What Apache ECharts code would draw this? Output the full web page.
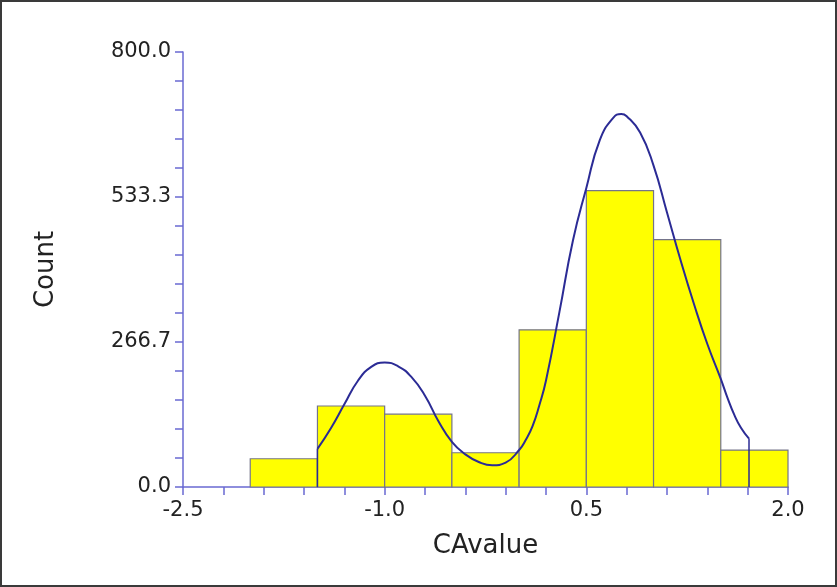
<!DOCTYPE html>
<html><head><meta charset="utf-8">
<script src="https://cdn.jsdelivr.net/npm/echarts@6/dist/echarts.min.js"></script>
<style>html,body{margin:0;padding:0;background:#fff}#c{width:837px;height:587px}</style>
</head><body><div id="c"></div>
<script>
const binStarts = [-2.0, -1.5, -1.0, -0.5, 0.0, 0.5, 1.0, 1.5];
const binEnds   = [-1.5, -1.0, -0.5, 0.0, 0.5, 1.0, 1.5, 2.0];
const counts    = [52, 149, 134, 63, 289, 545, 455, 68];

const curveX = [-1.50, -1.40, -1.30, -1.20, -1.10, -1.00, -0.90, -0.80, -0.70, -0.60, -0.50, -0.40, -0.30, -0.20, -0.10, 0.00, 0.05, 0.10, 0.15, 0.20, 0.30, 0.40, 0.50, 0.60, 0.70, 0.76, 0.80, 0.90, 1.00, 1.10, 1.20, 1.30, 1.40, 1.50, 1.55, 1.60, 1.65, 1.71];
const curveY = [70, 108, 152, 195, 221, 229, 222, 202, 168, 121, 83, 60, 46, 40, 45, 68, 87, 112, 150, 196, 322, 453, 550, 638, 679, 686, 682, 652, 591, 505, 418, 337, 263, 199, 164, 133, 109, 89];

const xLabelValues = [-2.5, -1.0, 0.5, 2.0];
const xTickValues = [-2.5, -2.2, -1.9, -1.6, -1.3, -1.0, -0.7, -0.4, -0.1, 0.2, 0.5, 0.8, 1.1, 1.4, 1.7, 2.0];
const yLabelValues = [0, 266.6667, 533.3333, 800];
const yTickValues = [0, 53.3333, 106.6667, 160, 213.3333, 266.6667, 320, 373.3333, 426.6667, 480, 533.3333, 586.6667, 640, 693.3333, 746.6667, 800];

const xName = 'CAvalue';
const yName = 'Count';

const barData = counts.map((c, i) => [binStarts[i], binEnds[i], c]);
const curveData = curveX.map((x, i) => [x, curveY[i]]);
const last = curveX.length - 1;
const dropLeft = [[curveX[0], 0], [curveX[0], curveY[0]]];
const dropRight = [[curveX[last], curveY[last]], [curveX[last], 0]];

const axisColor = '#6a6ad2';
const textColor = '#222';
const font = 'DejaVu Sans';
const curveColor = '#2b2b95';

const chart = echarts.init(document.getElementById('c'), null, {renderer: 'canvas'});
chart.setOption({
  backgroundColor: '#fff',
  animation: false,
  grid: {left: 183, right: 49, top: 52, bottom: 100, containLabel: false},
  xAxis: {
    type: 'value', min: -2.5, max: 2.0,
    name: xName, nameLocation: 'middle', nameGap: 46,
    nameTextStyle: {color: textColor, fontSize: 26, fontFamily: font},
    axisLine: {show: true, onZero: false, lineStyle: {color: axisColor, width: 1.5}},
    axisTick: {show: true, length: 8, inside: false, customValues: xTickValues, lineStyle: {color: axisColor, width: 1.5}},
    axisLabel: {customValues: xLabelValues, margin: 13, color: textColor, fontSize: 21, fontFamily: font,
      formatter: v => Number(v).toFixed(1)},
    splitLine: {show: false}
  },
  yAxis: {
    type: 'value', min: 0, max: 800,
    name: yName, nameLocation: 'middle', nameGap: 124, nameRotate: 90,
    nameTextStyle: {color: textColor, fontSize: 26, fontFamily: font},
    axisLine: {show: true, onZero: false, lineStyle: {color: axisColor, width: 1.5}},
    axisTick: {show: true, length: 8, inside: false, customValues: yTickValues, lineStyle: {color: axisColor, width: 1.5}},
    axisLabel: {customValues: yLabelValues, margin: 12, color: textColor, fontSize: 21, fontFamily: font,
      formatter: v => Number(v).toFixed(1)},
    splitLine: {show: false}
  },
  graphic: [{
    type: 'rect', silent: true, z: 100,
    shape: {x: 1, y: 1, width: 835, height: 585},
    style: {fill: 'none', stroke: '#3a3a3a', lineWidth: 2}
  }],
  series: [
    {
      type: 'custom',
      data: barData,
      encode: {x: [0, 1], y: 2},
      renderItem: function (params, api) {
        const p0 = api.coord([api.value(0), 0]);
        const p1 = api.coord([api.value(1), api.value(2)]);
        return {
          type: 'rect',
          shape: {x: p0[0], y: p1[1], width: p1[0] - p0[0], height: p0[1] - p1[1]},
          style: {fill: '#ffff00', stroke: '#74748a', lineWidth: 1.2}
        };
      },
      z: 2
    },
    {
      type: 'line', data: curveData, smooth: 0.5, showSymbol: false,
      lineStyle: {color: curveColor, width: 2}, z: 5
    },
    {
      type: 'line', data: dropLeft, smooth: false, showSymbol: false,
      lineStyle: {color: curveColor, width: 1.5}, z: 5
    },
    {
      type: 'line', data: dropRight, smooth: false, showSymbol: false,
      lineStyle: {color: curveColor, width: 1.5}, z: 5
    }
  ]
});
</script>
</body></html>
